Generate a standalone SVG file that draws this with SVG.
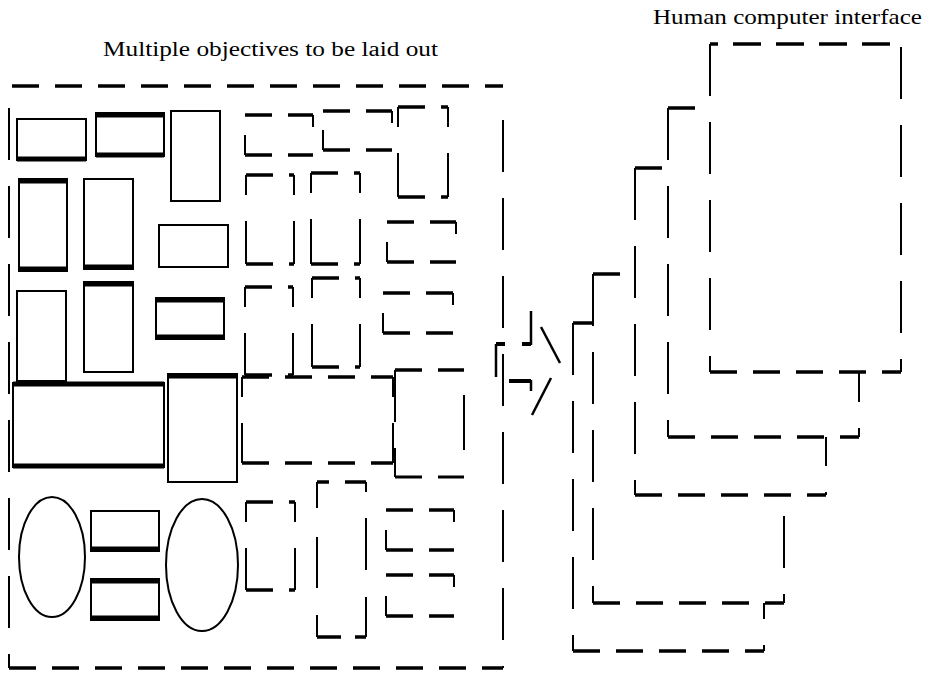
<svg xmlns="http://www.w3.org/2000/svg" width="925" height="674" viewBox="0 0 925 674">
<style>
.h{stroke:#000;stroke-width:3.5;stroke-dasharray:27 16;fill:none}
.v{stroke:#000;stroke-width:2;stroke-dasharray:52 26;fill:none}
.sv{stroke:#000;stroke-width:2;stroke-dasharray:20 26 300;fill:none}
.sr{stroke:#000;stroke-width:2;stroke-dasharray:12 40;fill:none}
.sl{stroke:#000;stroke-width:2;stroke-dasharray:20 40;fill:none}
.s{fill:none;stroke:#000;stroke-width:2}
.k{stroke:#000;stroke-width:5}
.d{stroke:#000;stroke-width:2.5}
.w{fill:#fff;stroke:none}
text{font-family:"Liberation Serif","Times New Roman",serif;fill:#000}
</style>
<rect width="925" height="674" fill="#fff"/>
<text x="103" y="56" font-size="20" textLength="335" lengthAdjust="spacingAndGlyphs">Multiple objectives to be laid out</text>
<text x="653" y="24" font-size="21" textLength="269" lengthAdjust="spacingAndGlyphs">Human computer interface</text>

<g id="layout-area">
<line class="h" x1="12" y1="86" x2="503" y2="86"/>
<line class="h" x1="9" y1="668" x2="503" y2="668"/>
<line class="v" x1="9" y1="108" x2="9" y2="668"/>
<line class="v" x1="503" y1="94" x2="503" y2="668" style="stroke-dashoffset:52"/>
</g>

<g id="solid-objects">
<g id="r1"><rect class="s" x="17" y="119" width="69" height="41"/><line class="k" x1="17" y1="159" x2="86" y2="159"/></g>
<g id="r2"><rect class="s" x="96" y="113" width="68" height="43"/><line class="k" x1="96" y1="115" x2="164" y2="115"/><line class="k" x1="96" y1="155" x2="164" y2="155"/></g>
<g id="r3"><rect class="s" x="171" y="111" width="49" height="90"/></g>
<g id="r4"><rect class="s" x="19" y="179" width="48" height="92"/><line class="k" x1="19" y1="181" x2="67" y2="181"/><line class="k" x1="19" y1="269" x2="67" y2="269"/></g>
<g id="r5"><rect class="s" x="84" y="179" width="49" height="90"/><line class="k" x1="84" y1="267" x2="133" y2="267"/></g>
<g id="r6"><rect class="s" x="159" y="225" width="69" height="42"/></g>
<g id="r7"><rect class="s" x="17" y="291" width="49" height="90"/></g>
<g id="r8"><rect class="s" x="84" y="282" width="49" height="90"/><line class="k" x1="84" y1="284" x2="133" y2="284"/></g>
<g id="r9"><rect class="s" x="156" y="298" width="68" height="41"/><line class="k" x1="156" y1="300" x2="224" y2="300"/><line class="k" x1="156" y1="337" x2="224" y2="337"/></g>
<g id="rA"><rect class="s" x="13" y="383" width="151" height="84"/><line class="k" x1="13" y1="384" x2="164" y2="384"/><line class="k" x1="13" y1="466" x2="164" y2="466"/></g>
<g id="rB"><rect class="s" x="168" y="374" width="69" height="108"/><line class="k" x1="168" y1="376" x2="237" y2="376"/></g>
<g id="e1"><ellipse class="s" cx="52" cy="557" rx="33" ry="60"/></g>
<g id="rC"><rect class="s" x="91" y="511" width="68" height="40"/><line class="k" x1="91" y1="549" x2="159" y2="549"/></g>
<g id="rD"><rect class="s" x="91" y="579" width="68" height="41"/><line class="k" x1="91" y1="581" x2="159" y2="581"/><line class="k" x1="91" y1="618" x2="159" y2="618"/></g>
<g id="e2"><ellipse class="s" cx="202" cy="565" rx="36" ry="66"/></g>
</g>

<g id="dashed-objects">
<g id="d1"><line class="h" x1="245" y1="115" x2="313" y2="115"/><line class="h" x1="245" y1="155" x2="313" y2="155"/><line class="sr" x1="313" y1="115" x2="313" y2="155"/><line class="sl" x1="245" y1="155" x2="245" y2="115"/></g>
<g id="d2"><line class="h" x1="323" y1="111" x2="392" y2="111"/><line class="h" x1="323" y1="150" x2="392" y2="150"/><line class="sr" x1="392" y1="111" x2="392" y2="150"/><line class="sl" x1="323" y1="150" x2="323" y2="111"/></g>
<g id="d3"><line class="h" x1="398" y1="107" x2="448" y2="107"/><line class="h" x1="398" y1="197" x2="448" y2="197"/><line class="sv" x1="398" y1="107" x2="398" y2="197"/><line class="sv" x1="448" y1="107" x2="448" y2="197"/></g>
<g id="d4"><line class="h" x1="246" y1="175" x2="294" y2="175"/><line class="h" x1="246" y1="264" x2="294" y2="264"/><line class="sv" x1="246" y1="175" x2="246" y2="264"/><line class="sv" x1="294" y1="175" x2="294" y2="264"/></g>
<g id="d5"><line class="h" x1="311" y1="173" x2="360" y2="173"/><line class="h" x1="311" y1="264" x2="360" y2="264"/><line class="sv" x1="311" y1="173" x2="311" y2="264"/><line class="sv" x1="360" y1="173" x2="360" y2="264"/></g>
<g id="d6"><line class="h" x1="387" y1="222" x2="456" y2="222"/><line class="h" x1="387" y1="262" x2="456" y2="262"/><line class="sr" x1="456" y1="222" x2="456" y2="262"/><line class="sl" x1="387" y1="262" x2="387" y2="222"/></g>
<g id="d7"><line class="h" x1="245" y1="287" x2="293" y2="287"/><line class="h" x1="245" y1="375" x2="293" y2="375"/><line class="sv" x1="245" y1="287" x2="245" y2="375"/><line class="sv" x1="293" y1="287" x2="293" y2="375"/></g>
<g id="d8"><line class="h" x1="312" y1="278" x2="360" y2="278"/><line class="h" x1="312" y1="367" x2="360" y2="367"/><line class="sv" x1="312" y1="278" x2="312" y2="367"/><line class="sv" x1="360" y1="278" x2="360" y2="367"/></g>
<g id="d9"><line class="h" x1="383" y1="293" x2="453" y2="293"/><line class="h" x1="383" y1="333" x2="453" y2="333"/><line class="sr" x1="453" y1="293" x2="453" y2="333"/><line class="sl" x1="383" y1="333" x2="383" y2="293"/></g>
<g id="d10"><line class="h" x1="242" y1="377" x2="393" y2="377"/><line class="h" x1="242" y1="463" x2="393" y2="463"/><line class="sv" x1="242" y1="377" x2="242" y2="463"/><line class="sv" x1="393" y1="377" x2="393" y2="463"/></g>
<g id="d11"><line class="h" x1="395" y1="370" x2="464" y2="370"/><line class="h" x1="395" y1="477" x2="464" y2="477" style="stroke-width:3"/><line class="v" x1="395" y1="370" x2="395" y2="477"/><line class="sv" x1="464" y1="370" x2="464" y2="477" style="stroke-dasharray:0 25 55 100"/></g>
<g id="d12"><line class="h" x1="246" y1="502" x2="295" y2="502"/><line class="h" x1="246" y1="590" x2="295" y2="590"/><line class="sv" x1="246" y1="502" x2="246" y2="590"/><line class="sv" x1="295" y1="502" x2="295" y2="590"/></g>
<g id="d13"><line class="h" x1="317" y1="482" x2="366" y2="482" style="stroke-dasharray:12 16 30"/><line class="h" x1="317" y1="637" x2="366" y2="637" style="stroke-dasharray:24 14 20"/><line class="v" x1="317" y1="482" x2="317" y2="637" style="stroke-dasharray:26 29 51 27 30"/><line class="v" x1="366" y1="482" x2="366" y2="637" style="stroke-dasharray:10 26 52 27 50"/></g>
<g id="d14"><line class="h" x1="386" y1="510" x2="454" y2="510"/><line class="h" x1="386" y1="550" x2="454" y2="550"/><line class="sr" x1="454" y1="510" x2="454" y2="550"/><line class="sl" x1="386" y1="550" x2="386" y2="510"/></g>
<g id="d15"><line class="h" x1="386" y1="575" x2="454" y2="575"/><line class="h" x1="386" y1="616" x2="454" y2="616"/><line class="sr" x1="454" y1="575" x2="454" y2="616"/><line class="sl" x1="386" y1="616" x2="386" y2="575"/></g>
</g>

<g id="connectors">
<g id="arrow">
<line class="d" x1="496" y1="344" x2="496" y2="377"/>
<line class="k" x1="496" y1="344" x2="505" y2="344" style="stroke-width:4"/>
<line class="k" x1="522" y1="344" x2="531" y2="344" style="stroke-width:4"/>
<line class="d" x1="531" y1="311" x2="531" y2="345"/>
<line class="k" x1="509" y1="381" x2="531" y2="381" style="stroke-width:4"/>
<line class="d" x1="531" y1="380" x2="531" y2="391"/>
<line class="d" x1="541" y1="327" x2="560" y2="363"/>
<line class="d" x1="551" y1="378" x2="532" y2="415"/>
</g>
</g>

<g id="interface-stack">
<g id="s5"><rect class="w" x="573" y="323" width="191" height="328"/><line class="h" x1="573" y1="323" x2="764" y2="323"/><line class="h" x1="573" y1="651" x2="764" y2="651"/><line class="v" x1="573" y1="323" x2="573" y2="651"/><line class="v" x1="764" y1="323" x2="764" y2="651" style="stroke-dashoffset:-10"/></g>
<g id="s4"><rect class="w" x="593" y="274" width="191" height="329"/><line class="h" x1="593" y1="274" x2="784" y2="274"/><line class="h" x1="593" y1="603" x2="784" y2="603"/><line class="v" x1="593" y1="274" x2="593" y2="603"/><line class="v" x1="784" y1="274" x2="784" y2="603" style="stroke-dashoffset:-8"/></g>
<g id="s3"><rect class="w" x="635" y="168" width="191" height="327"/><line class="h" x1="635" y1="168" x2="826" y2="168"/><line class="h" x1="635" y1="495" x2="826" y2="495"/><line class="v" x1="635" y1="168" x2="635" y2="495"/><line class="v" x1="826" y1="168" x2="826" y2="495" style="stroke-dashoffset:-12"/></g>
<g id="s2"><rect class="w" x="668" y="108" width="191" height="329"/><line class="h" x1="668" y1="108" x2="859" y2="108"/><line class="h" x1="668" y1="437" x2="859" y2="437"/><line class="v" x1="668" y1="108" x2="668" y2="437"/><line class="v" x1="859" y1="108" x2="859" y2="437" style="stroke-dashoffset:-8"/></g>
<g id="s1"><rect class="w" x="710" y="44" width="191" height="328"/><line class="h" x1="710" y1="44" x2="901" y2="44" style="stroke-dasharray:28 15;stroke-dashoffset:20"/><line class="h" x1="710" y1="372" x2="901" y2="372"/><line class="v" x1="710" y1="44" x2="710" y2="372"/><line class="v" x1="901" y1="47" x2="901" y2="372"/></g>
</g>
</svg>
